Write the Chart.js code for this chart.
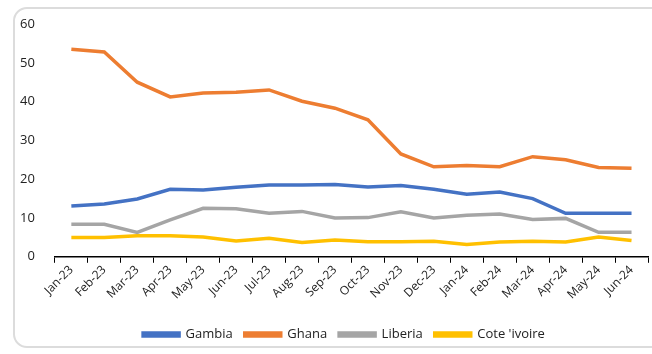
<!DOCTYPE html>
<html>
<head>
<meta charset="utf-8">
<script src="https://cdn.jsdelivr.net/npm/chart.js@4"></script>
<style>
  html, body { margin: 0; padding: 0; background: #fff; }
  #wrap { position: relative; width: 652px; height: 354px; overflow: hidden; }
  #frame {
    position: absolute; left: 13px; top: 7px; width: 680px; height: 341px;
    border: 2px solid #dcdcdc; border-radius: 14px; box-sizing: border-box;
  }
  canvas { position: absolute; left: 0; top: 0; }
</style>
</head>
<body>
<div id="wrap">
  <div id="frame"></div>
  <canvas id="chart" width="652" height="354"></canvas>
</div>
<script>
const months = ["Jan-23", "Feb-23", "Mar-23", "Apr-23", "May-23", "Jun-23", "Jul-23", "Aug-23", "Sep-23",
  "Oct-23", "Nov-23", "Dec-23", "Jan-24", "Feb-24", "Mar-24", "Apr-24", "May-24", "Jun-24"];

const gambia = [13.1, 13.6, 14.9, 17.4, 17.2, 17.9, 18.5, 18.5, 18.6, 18.0, 18.4, 17.4, 16.1, 16.7, 15.0, 11.2, 11.2, 11.2];
const ghana = [53.5, 52.8, 45.0, 41.2, 42.2, 42.4, 43.0, 40.1, 38.3, 35.3, 26.5, 23.2, 23.5, 23.2, 25.8, 25.0, 23.0, 22.8];
const liberia = [8.4, 8.4, 6.3, 9.5, 12.5, 12.4, 11.2, 11.7, 10.0, 10.1, 11.6, 10.0, 10.7, 11.0, 9.6, 9.9, 6.3, 6.3];
const coteIvoire = [5.0, 5.0, 5.4, 5.4, 5.1, 4.1, 4.8, 3.7, 4.3, 3.9, 3.9, 4.0, 3.2, 3.8, 4.0, 3.8, 5.1, 4.2];

const yTicks = [0, 10, 20, 30, 40, 50, 60];

function series(label, data, color) {
  return {
    label: label,
    data: data,
    borderColor: color,
    backgroundColor: color,
    borderWidth: 3.5,
    pointRadius: 0,
    tension: 0,
  };
}

// legend sits a bit right of the plot centre in the original
const shiftLegend = {
  id: "shiftLegend",
  afterLayout(chart) {
    chart.legend.left += 16;
    chart.legend.right += 16;
  },
};

const ctx = document.getElementById("chart").getContext("2d");

new Chart(ctx, {
  type: "line",
  data: {
    labels: months,
    datasets: [
      series("Gambia", gambia, "#4472C4"),
      series("Ghana", ghana, "#ED7D31"),
      series("Liberia", liberia, "#A5A5A5"),
      series("Cote 'ivoire", coteIvoire, "#FFC000"),
    ],
  },
  plugins: [shiftLegend],
  options: {
    responsive: false,
    animation: false,
    layout: { padding: { left: 8, right: 4, top: 24, bottom: 3 } },
    plugins: {
      tooltip: { enabled: false },
      legend: {
        position: "bottom",
        labels: {
          boxWidth: 36,
          boxHeight: 3,
          padding: 12,
          color: "#222",
          font: { family: "'Open Sans', sans-serif", size: 13 },
        },
      },
    },
    scales: {
      x: {
        offset: true,
        afterFit: (axis) => { axis.height += 14; },
        grid: {
          display: true,
          offset: true,
          drawOnChartArea: false,
          drawTicks: true,
          tickLength: 6,
          color: "#000",
        },
        border: { display: true, color: "#000", width: 1.5 },
        ticks: {
          minRotation: 45,
          maxRotation: 45,
          autoSkip: false,
          padding: 0,
          color: "#222",
          font: { family: "'Open Sans', sans-serif", size: 12 },
        },
      },
      y: {
        min: 0,
        max: 60,
        afterBuildTicks: (axis) => { axis.ticks = yTicks.map(v => ({ value: v })); },
        grid: { display: false },
        border: { display: false },
        ticks: {
          padding: 12,
          color: "#222",
          font: { family: "'Open Sans', sans-serif", size: 13 },
        },
      },
    },
  },
});
</script>
</body>
</html>
